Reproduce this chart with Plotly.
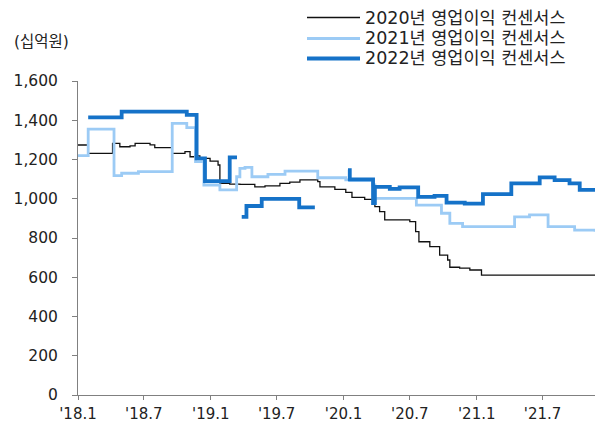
import plotly.graph_objects as go

# 2020 operating profit consensus (black)
d2020 = ["2018-01-01", "2018-01-29", "2018-04-06", "2018-04-26", "2018-05-24", "2018-06-07",
         "2018-07-18", "2018-07-31", "2018-09-16", "2018-10-22", "2018-11-05", "2018-11-18",
         "2018-12-02", "2018-12-30", "2019-01-21", "2019-01-26", "2019-02-22", "2019-03-22",
         "2019-05-02", "2019-05-30", "2019-07-10", "2019-08-06", "2019-09-03", "2019-10-22",
         "2019-10-28", "2019-12-08", "2020-01-07", "2020-01-24", "2020-02-28", "2020-03-27",
         "2020-04-09", "2020-04-23", "2020-07-01", "2020-07-17", "2020-07-26", "2020-08-25",
         "2020-09-21", "2020-10-13", "2020-10-19", "2020-11-15", "2020-12-13", "2021-01-14",
         "2021-11-22"]
v2020 = [1274, 1231, 1282, 1265, 1269, 1282,
         1275, 1260, 1231, 1240, 1214, 1218,
         1206, 1192, 1172, 1078, 1075, 1073,
         1061, 1066, 1078, 1085, 1096, 1087,
         1061, 1048, 1032, 1007, 997, 960,
         934, 892, 883, 832, 781, 756,
         713, 688, 651, 646, 637, 611,
         611]

# 2021 operating profit consensus (light blue)
d2021 = ["2018-01-01", "2018-01-29", "2018-04-10", "2018-05-01", "2018-06-16", "2018-09-17",
         "2018-10-27", "2018-11-20", "2018-12-13", "2019-01-26", "2019-03-13", "2019-03-22",
         "2019-04-05", "2019-04-24", "2019-06-07", "2019-07-24", "2019-10-22", "2020-01-07",
         "2020-01-18", "2020-03-21", "2020-03-27", "2020-07-19", "2020-09-26", "2020-10-19",
         "2020-11-23", "2021-04-15", "2021-05-26", "2021-07-16", "2021-09-27", "2021-11-22"]
v2021 = [1220, 1355, 1118, 1130, 1138, 1384,
         1362, 1189, 1070, 1045, 1112, 1155,
         1160, 1112, 1124, 1141, 1107, 1096,
         1092, 1070, 1002, 968, 926, 875,
         858, 908, 918, 858, 840, 832]

# 2022 operating profit consensus (dark blue), None marks gaps
d2022 = ["2018-01-29", "2018-05-01", "2018-10-27", "2018-11-23", "2018-12-16", "2019-02-22",
         "2019-03-14", "2019-03-20",
         "2019-03-27", "2019-04-09", "2019-05-21", "2019-09-01", "2019-10-14", "2019-12-01",
         "2020-01-13", "2020-01-18", "2020-03-22", "2020-03-27", "2020-05-07", "2020-06-03",
         "2020-07-24", "2020-09-07", "2020-10-10", "2020-11-29", "2021-01-18", "2021-04-06",
         "2021-06-23", "2021-08-03", "2021-09-13", "2021-10-11", "2021-11-22"]
v2022 = [1415, 1444, 1427, 1206, 1090, 1211,
         1211, None,
         908, 963, 999, 956, 956, None,
         1146, 1099, 978, 1061, 1050, 1058,
         1010, 1015, 980, 975, 1024, 1078,
         1109, 1095, 1078, 1045, 1045]

names = ["2020년 영업이익 컨센서스", "2021년 영업이익 컨센서스", "2022년 영업이익 컨센서스"]
colors = ["#111111", "#9ccbf5", "#1572c8"]
widths = [1.3, 2.8, 3.8]
tick_vals = ["2018-01-01", "2018-07-01", "2019-01-01", "2019-07-01", "2020-01-01",
             "2020-07-01", "2021-01-01", "2021-07-01"]
tick_text = ["'18.1", "'18.7", "'19.1", "'19.7", "'20.1", "'20.7", "'21.1", "'21.7"]
y_ticks = [0, 200, 400, 600, 800, 1000, 1200, 1400, 1600]
y_text = ["0", "200", "400", "600", "800", "1,000", "1,200", "1,400", "1,600"]
unit_label = "(십억원)"

FONT = "DejaVu Sans, Noto Sans CJK KR, sans-serif"
TXT = "#222222"

# plot-area geometry in pixels (for placing the hand-drawn legend)
L, T, W, H = 78, 81, 517, 314


def px(x):
    return (x - L) / W


def py(y):
    return (T + H - y) / H


fig = go.Figure()
for d, v, n, c, w in zip([d2020, d2021, d2022], [v2020, v2021, v2022], names, colors, widths):
    fig.add_trace(go.Scatter(x=d, y=v, mode="lines", name=n, connectgaps=False,
                             line=dict(color=c, width=w, shape="hv")))

shapes = []
annotations = []
legend_rows = [17.5, 38.5, 58.5]
for n, c, w, yy in zip(names, colors, widths, legend_rows):
    shapes.append(dict(type="line", xref="paper", yref="paper",
                       x0=px(307), x1=px(360), y0=py(yy), y1=py(yy),
                       line=dict(color=c, width=w)))
    annotations.append(dict(text=n, xref="paper", yref="paper", x=px(363), y=py(yy),
                            xanchor="left", yanchor="middle", showarrow=False,
                            font=dict(size=17.5, color=TXT, family=FONT)))
annotations.append(dict(text=unit_label, xref="paper", yref="paper", x=px(12), y=py(42),
                        xanchor="left", yanchor="middle", showarrow=False,
                        font=dict(size=15.5, color=TXT, family=FONT)))

fig.update_layout(
    width=596, height=424,
    margin=dict(l=L, r=596 - L - W, t=T, b=424 - T - H, autoexpand=False),
    paper_bgcolor="white", plot_bgcolor="white",
    font=dict(family=FONT, size=15.5, color=TXT),
    showlegend=False,
    shapes=shapes,
    annotations=annotations,
)
fig.update_xaxes(range=["2018-01-01", "2021-11-22"], tickvals=tick_vals, ticktext=tick_text,
                 showgrid=False, zeroline=False, showline=True, linecolor="#808080",
                 linewidth=1, ticks="outside", ticklen=4, tickcolor="#808080",
                 tickfont=dict(size=15, color=TXT), ticklabelstandoff=1)
fig.update_yaxes(range=[0, 1600], tickvals=y_ticks, ticktext=y_text,
                 showgrid=False, zeroline=False, showline=True, linecolor="#808080",
                 linewidth=1, ticks="outside", ticklen=5, tickcolor="#808080",
                 tickfont=dict(size=15.5, color=TXT), ticklabelstandoff=11)

fig.write_html(
    "out.html",
    config={"displayModeBar": False},
    post_script="document.body.style.margin='0';document.body.style.padding='0';"
                "document.documentElement.style.overflow='hidden';",
)
